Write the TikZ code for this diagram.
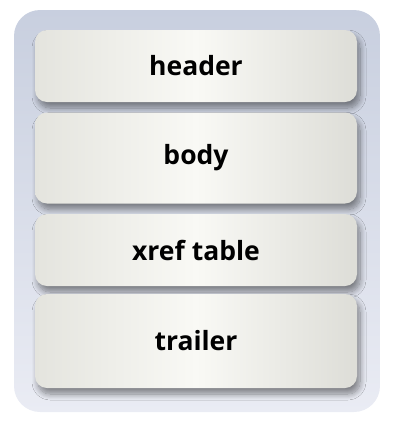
\documentclass[tikz,border=0pt]{standalone}
\usepackage{fontspec}
\setmainfont{Open Sans}
\usetikzlibrary{shadows.blur}
\definecolor{outtop}{HTML}{C8CFDF}
\definecolor{outbot}{HTML}{EAECF4}
\definecolor{boxside}{HTML}{E4E4DE}
\definecolor{boxmid}{HTML}{F9F9F5}
\begin{document}
\begin{tikzpicture}[x=1pt,y=-1pt,
  layer/.style={rounded corners=12pt, left color=boxside, right color=boxside!97!black, middle color=boxmid,
    blur shadow={shadow xshift=3pt, shadow yshift=-6pt, shadow blur radius=6pt, shadow opacity=45, shadow blur steps=10},
    minimum width=322pt, inner sep=0pt, font=\fontsize{26.5}{30}\selectfont\bfseries, text=black},
]
\useasboundingbox (0,0) rectangle (407,424);
\shade[rounded corners=26pt, top color=outtop, bottom color=outbot] (14,10) rectangle (380,412);
\node[layer, minimum height=72pt] (header) at (196,66) {header};
\node[layer, minimum height=91pt] (body) at (196,158) {body};
\node[layer, minimum height=72pt] (xref) at (196,250) {xref table};
\node[layer, minimum height=94pt] (trailer) at (196,341) {trailer};
\end{tikzpicture}
\end{document}
